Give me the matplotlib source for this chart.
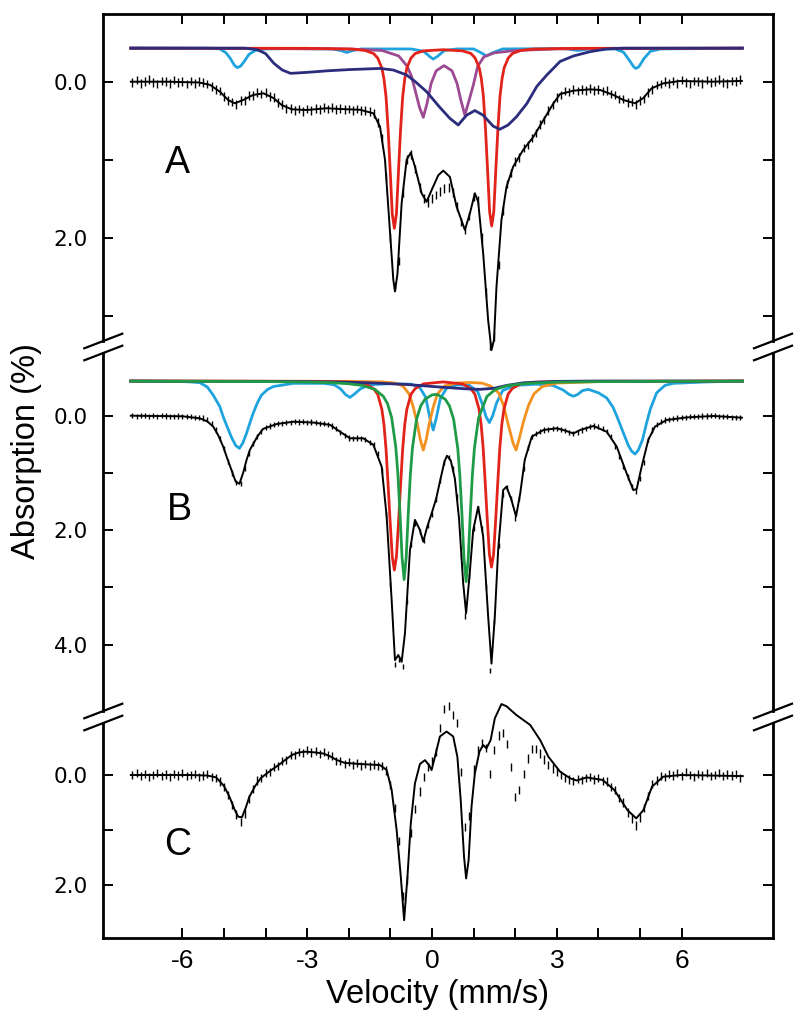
import numpy as np
import matplotlib
matplotlib.use("Agg")
import matplotlib.pyplot as plt
from matplotlib.lines import Line2D

# ---------------- data (velocity in mm/s, absorption in %) ----------------
VEL_START, VEL_STOP = -7.2, 7.4

A_DATA = [0.01, -0.02, 0.02, 0.0, -0.03, 0.01, 0.03, -0.01, 0.0, 0.02,
          -0.02, 0.01, 0.0, 0.03, -0.01, 0.02, 0.0, 0.01, 0.03, 0.06,
          0.10, 0.12, 0.19, 0.24, 0.26, 0.29, 0.24, 0.24, 0.18, 0.18,
          0.14, 0.16, 0.14, 0.19, 0.20, 0.27, 0.29, 0.34, 0.34, 0.37,
          0.35, 0.38, 0.35, 0.37, 0.34, 0.36, 0.33, 0.35, 0.33, 0.36,
          0.34, 0.36, 0.35, 0.37, 0.35, 0.37, 0.37, 0.38, 0.41, 0.52,
          0.72, 1.22, 2.0, 2.62, 2.3, 1.42, 1.0, 0.93, 1.12, 1.36,
          1.5, 1.55, 1.5, 1.45, 1.41, 1.37, 1.36, 1.42, 1.6, 1.8,
          1.9, 1.72, 1.48, 1.52, 2.0, 2.7, 3.38, 3.27, 2.35, 1.65,
          1.31, 1.17, 1.02, 0.97, 0.85, 0.81, 0.72, 0.66, 0.55, 0.49,
          0.37, 0.30, 0.20, 0.17, 0.12, 0.13, 0.10, 0.12, 0.10, 0.11,
          0.09, 0.11, 0.10, 0.12, 0.11, 0.16, 0.17, 0.22, 0.22, 0.27,
          0.26, 0.29, 0.24, 0.22, 0.14, 0.10, 0.04, 0.03, 0.0, 0.02,
          -0.01, 0.02, -0.02, 0.01, 0.03, -0.01, 0.0, 0.02, -0.02, 0.01,
          0.0, -0.03, 0.01, 0.02, -0.01, 0.0, -0.03]

A_FIT_X = [-7.24, -6.4, -5.6, -5.34, -5.1, -4.9, -4.74, -4.54, -4.3, -4.05,
           -3.81, -3.61, -3.37, -3.01, -2.53, -2.21, -1.73, -1.41, -1.25, -1.13,
           -1.03, -0.93, -0.89, -0.83, -0.73, -0.61, -0.51, -0.41, -0.25, -0.13,
           -0.01, 0.15, 0.27, 0.43, 0.59, 0.79, 0.91, 1.03, 1.11, 1.23,
           1.35, 1.43, 1.49, 1.55, 1.67, 1.79, 1.95, 2.19, 2.44, 2.68,
           2.92, 3.08, 3.4, 3.8, 4.04, 4.36, 4.6, 4.88, 5.08, 5.28,
           5.56, 5.96, 6.76, 7.45]
A_FIT_Y = [0.0, 0.0, 0.01, 0.04, 0.128, 0.235, 0.277, 0.235, 0.17, 0.149,
           0.21, 0.30, 0.354, 0.363, 0.34, 0.35, 0.36, 0.405, 0.577, 1.0,
           1.77, 2.54, 2.69, 2.46, 1.56, 1.0, 0.91, 1.09, 1.43, 1.54,
           1.39, 1.2, 1.14, 1.22, 1.60, 1.9, 1.69, 1.43, 1.54, 2.2,
           3.06, 3.44, 3.31, 2.63, 1.77, 1.35, 1.09, 0.876, 0.705, 0.49,
           0.277, 0.158, 0.115, 0.098, 0.106, 0.17, 0.235, 0.277, 0.21, 0.085,
           0.021, -0.009, 0.0, -0.01]

A_CYAN_X = [-7.24, -5.4, -5.1, -4.95, -4.85, -4.75, -4.68, -4.6, -4.5, -4.4,
            -4.25, -4.0, -3.5, -2.4, -2.2, -2.05, -1.9, -1.7, -0.5, -0.2,
            -0.05, 0.03, 0.12, 0.3, 0.6, 1.0, 1.15, 1.31, 1.45, 1.7,
            3.2, 3.5, 3.8, 4.4, 4.6, 4.75, 4.85, 4.9, 4.97, 5.1,
            5.25, 5.5, 7.46]
A_CYAN_Y = [-0.43, -0.43, -0.42, -0.37, -0.30, -0.21, -0.18, -0.20, -0.27, -0.35,
            -0.40, -0.42, -0.425, -0.42, -0.40, -0.375, -0.40, -0.42, -0.42, -0.39,
            -0.32, -0.29, -0.32, -0.40, -0.42, -0.42, -0.38, -0.33, -0.37, -0.42,
            -0.425, -0.40, -0.42, -0.42, -0.38, -0.27, -0.19, -0.17, -0.19, -0.30,
            -0.39, -0.42, -0.43]

A_PURPLE_X = [-7.24, -2.0, -1.2, -0.8, -0.6, -0.5, -0.4, -0.3, -0.21, -0.12,
              -0.02, 0.1, 0.29, 0.48, 0.6, 0.7, 0.79, 0.88, 0.99, 1.1,
              1.25, 1.5, 2.0, 3.0, 7.46]
A_PURPLE_Y = [-0.43, -0.42, -0.40, -0.33, -0.20, -0.08, 0.12, 0.33, 0.457, 0.28,
              0.02, -0.14, -0.206, -0.14, 0.02, 0.25, 0.427, 0.26, 0.05, -0.20,
              -0.32, -0.37, -0.40, -0.42, -0.43]

A_RED_X = [-7.24, -3.0, -1.905, -1.605, -1.405, -1.305, -1.205, -1.155, -1.105, -1.055,
           -1.005, -0.955, -0.905, -0.855, -0.805, -0.755, -0.705, -0.655, -0.605, -0.505,
           -0.405, -0.205, 0.265, 0.735, 0.935, 1.035, 1.135, 1.185, 1.235, 1.285,
           1.335, 1.385, 1.435, 1.485, 1.535, 1.585, 1.635, 1.685, 1.735, 1.835,
           1.935, 2.135, 2.435, 3.5, 7.46]
A_RED_Y = [-0.43, -0.428, -0.418, -0.40, -0.361, -0.303, -0.176, -0.037, 0.194, 0.61,
           1.141, 1.695, 1.88, 1.695, 1.141, 0.61, 0.194, -0.037, -0.176, -0.303,
           -0.361, -0.395, -0.41, -0.395, -0.362, -0.305, -0.179, -0.042, 0.186, 0.596,
           1.12, 1.668, 1.85, 1.668, 1.12, 0.596, 0.186, -0.042, -0.179, -0.305,
           -0.362, -0.40, -0.419, -0.428, -0.43]

A_NAVY_X = [-7.24, -4.5, -4.2, -4.0, -3.8, -3.6, -3.4, -3.0, -2.5, -2.0,
            -1.5, -1.25, -0.93, -0.61, -0.4, -0.13, 0.19, 0.43, 0.63, 0.83,
            1.03, 1.23, 1.47, 1.63, 1.83, 2.03, 2.28, 2.52, 2.76, 3.08,
            3.4, 3.8, 4.2, 4.6, 7.46]
A_NAVY_Y = [-0.43, -0.43, -0.41, -0.36, -0.235, -0.15, -0.107, -0.12, -0.14, -0.155,
            -0.165, -0.17, -0.15, -0.086, 0.0, 0.128, 0.33, 0.47, 0.555, 0.43,
            0.37, 0.43, 0.57, 0.61, 0.555, 0.45, 0.28, 0.06, -0.086, -0.26,
            -0.33, -0.385, -0.42, -0.43, -0.43]

B_DATA = [0.0, 0.01, -0.01, 0.0, 0.015, -0.005, 0.01, 0.0, 0.005, 0.01,
          0.01, 0.005, 0.015, 0.01, 0.02, 0.03, 0.03, 0.04, 0.06, 0.13,
          0.25, 0.40, 0.58, 0.80, 1.0, 1.17, 1.19, 0.92, 0.66, 0.49,
          0.37, 0.27, 0.21, 0.18, 0.16, 0.14, 0.14, 0.12, 0.12, 0.10,
          0.11, 0.10, 0.12, 0.11, 0.12, 0.13, 0.14, 0.16, 0.18, 0.23,
          0.29, 0.34, 0.39, 0.40, 0.39, 0.40, 0.42, 0.47, 0.51, 0.66,
          0.95, 1.72, 2.95, 4.35, 4.25, 4.38, 3.25, 2.25, 1.88, 2.02,
          2.18, 1.92, 1.72, 1.47, 1.13, 0.82, 0.73, 0.92, 1.42, 2.45,
          3.5, 2.8, 1.97, 1.62, 1.97, 2.98, 4.45, 3.6, 2.27, 1.38,
          1.26, 1.45, 1.8, 1.45, 0.92, 0.55, 0.37, 0.31, 0.27, 0.25,
          0.24, 0.23, 0.22, 0.24, 0.26, 0.29, 0.31, 0.29, 0.25, 0.22,
          0.19, 0.18, 0.19, 0.22, 0.28, 0.37, 0.54, 0.72, 0.88, 1.07,
          1.24, 1.32, 1.1, 0.82, 0.42, 0.25, 0.15, 0.10, 0.075, 0.06,
          0.05, 0.04, 0.035, 0.03, 0.02, 0.015, 0.01, 0.005, 0.005, 0.0,
          0.0, 0.01, 0.015, 0.02, 0.025, 0.03, 0.035]

B_FIT_X = [-7.24, -6.0, -5.58, -5.4, -5.26, -5.14, -5.02, -4.92, -4.82, -4.72,
           -4.63, -4.54, -4.46, -4.38, -4.2, -4.06, -3.73, -3.33, -2.85, -2.45,
           -2.21, -1.97, -1.65, -1.41, -1.21, -1.09, -0.97, -0.89, -0.81, -0.73,
           -0.65, -0.53, -0.41, -0.3, -0.21, -0.12, -0.01, 0.1, 0.2, 0.3,
           0.36, 0.45, 0.55, 0.65, 0.75, 0.82, 0.9, 0.99, 1.11, 1.23,
           1.35, 1.43, 1.51, 1.59, 1.71, 1.79, 1.91, 2.02, 2.12, 2.23,
           2.4, 2.68, 3.0, 3.2, 3.4, 3.56, 3.88, 4.2, 4.44, 4.68,
           4.84, 4.92, 5.04, 5.2, 5.36, 5.64, 6.12, 6.76, 7.45]
B_FIT_Y = [0.0, 0.01, 0.046, 0.10, 0.19, 0.34, 0.54, 0.75, 0.95, 1.15,
           1.19, 1.0, 0.78, 0.6, 0.366, 0.23, 0.145, 0.105, 0.12, 0.16,
           0.28, 0.395, 0.395, 0.51, 0.89, 1.76, 3.22, 4.27, 4.18, 4.3,
           3.8, 2.35, 1.82, 1.98, 2.2, 1.95, 1.71, 1.45, 1.12, 0.80,
           0.70, 0.78, 1.1, 1.8, 2.93, 3.45, 2.81, 2.0, 1.59, 2.11,
           3.51, 4.33, 3.51, 2.35, 1.30, 1.24, 1.47, 1.76, 1.36, 0.77,
           0.366, 0.25, 0.22, 0.26, 0.31, 0.25, 0.18, 0.28, 0.54, 1.01,
           1.30, 1.28, 0.89, 0.42, 0.19, 0.075, 0.03, 0.005, 0.035]

B_CYAN_X = [-7.24, -6.2, -5.8, -5.58, -5.4, -5.26, -5.1, -5.02, -4.92, -4.82,
            -4.72, -4.63, -4.55, -4.46, -4.38, -4.3, -4.2, -4.1, -3.95, -3.81,
            -3.33, -2.6, -2.35, -2.2, -2.08, -1.97, -1.86, -1.72, -1.5, -1.0,
            -0.5, -0.3, -0.15, -0.05, 0.03, 0.1, 0.2, 0.35, 0.6, 0.9,
            1.1, 1.22, 1.3, 1.38, 1.46, 1.55, 1.7, 2.0, 2.5, 2.9,
            3.15, 3.3, 3.4, 3.5, 3.62, 3.76, 4.0, 4.2, 4.35, 4.45,
            4.6, 4.72, 4.8, 4.88, 4.96, 5.06, 5.15, 5.25, 5.4, 5.6,
            5.8, 6.6, 7.46]
B_CYAN_Y = [-0.605, -0.60, -0.59, -0.577, -0.50, -0.36, -0.16, 0.017, 0.2, 0.378,
            0.52, 0.57, 0.48, 0.31, 0.13, -0.04, -0.22, -0.36, -0.46, -0.51,
            -0.565, -0.565, -0.54, -0.47, -0.37, -0.32, -0.38, -0.47, -0.54, -0.56,
            -0.55, -0.50, -0.32, 0.05, 0.25, 0.05, -0.30, -0.48, -0.54, -0.53,
            -0.42, -0.18, 0.02, 0.12, 0.0, -0.22, -0.44, -0.53, -0.55, -0.53,
            -0.45, -0.37, -0.34, -0.37, -0.44, -0.46, -0.40, -0.31, -0.15, 0.02,
            0.30, 0.52, 0.62, 0.67, 0.60, 0.42, 0.15, -0.12, -0.40, -0.53,
            -0.565, -0.59, -0.605]

B_ORANGE_X = [-7.24, -2.0, -1.2, -0.9, -0.7, -0.55, -0.45, -0.35, -0.28, -0.21,
              -0.14, -0.07, 0.03, 0.13, 0.3, 0.6, 0.9, 1.2, 1.4, 1.6,
              1.72, 1.82, 1.95, 2.02, 2.09, 2.2, 2.32, 2.45, 2.65, 3.0,
              4.0, 7.46]
B_ORANGE_Y = [-0.605, -0.60, -0.59, -0.57, -0.52, -0.38, -0.15, 0.15, 0.42, 0.60,
              0.42, 0.15, -0.15, -0.38, -0.52, -0.57, -0.58, -0.57, -0.52, -0.40,
              -0.18, 0.12, 0.48, 0.60, 0.42, 0.10, -0.18, -0.38, -0.51, -0.57,
              -0.595, -0.605]

B_RED_X = [-7.24, -3.0, -1.905, -1.605, -1.405, -1.305, -1.205, -1.155, -1.105, -1.055,
           -1.005, -0.955, -0.905, -0.855, -0.805, -0.755, -0.705, -0.655, -0.605, -0.505,
           -0.405, -0.205, 0.26, 0.73, 0.93, 1.03, 1.13, 1.18, 1.23, 1.28,
           1.33, 1.38, 1.43, 1.48, 1.53, 1.58, 1.63, 1.68, 1.73, 1.83,
           1.93, 2.13, 2.43, 3.5, 7.46]
B_RED_Y = [-0.605, -0.60, -0.585, -0.556, -0.473, -0.374, -0.11, 0.154, 0.583, 1.21,
           1.87, 2.464, 2.695, 2.464, 1.87, 1.21, 0.583, 0.154, -0.11, -0.374,
           -0.473, -0.556, -0.59, -0.556, -0.475, -0.377, -0.117, 0.143, 0.565, 1.18,
           1.83, 2.42, 2.645, 2.42, 1.83, 1.18, 0.565, 0.143, -0.117, -0.377,
           -0.475, -0.556, -0.585, -0.60, -0.605]

B_GREEN_X = [-7.24, -4.0, -3.0, -2.5, -2.0, -1.67, -1.37, -1.17, -1.07, -0.97,
             -0.87, -0.82, -0.77, -0.72, -0.67, -0.62, -0.57, -0.52, -0.47, -0.37,
             -0.27, -0.17, 0.0, 0.075, 0.15, 0.32, 0.42, 0.52, 0.62, 0.67,
             0.72, 0.77, 0.82, 0.87, 0.92, 0.97, 1.02, 1.12, 1.32, 1.52,
             1.82, 2.3, 3.0, 4.0, 5.5, 7.46]
B_GREEN_Y = [-0.602, -0.596, -0.588, -0.579, -0.558, -0.528, -0.459, -0.338, -0.211, 0.032,
             0.551, 1.023, 1.698, 2.473, 2.863, 2.475, 1.703, 1.03, 0.56, 0.058,
             -0.174, -0.287, -0.363, -0.37, -0.363, -0.286, -0.171, 0.063, 0.577, 1.05,
             1.728, 2.508, 2.899, 2.506, 1.723, 1.042, 0.566, 0.037, -0.336, -0.457,
             -0.527, -0.566, -0.586, -0.595, -0.60, -0.602]

B_NAVY_X = [-7.24, -4.0, -2.5, -1.5, -0.6, 0.2, 0.8, 1.15, 1.5, 1.8, 2.2, 3.0, 4.0, 7.46]
B_NAVY_Y = [-0.605, -0.60, -0.59, -0.575, -0.545, -0.50, -0.47, -0.46, -0.48, -0.53,
            -0.575, -0.60, -0.605, -0.605]

C_DATA = [0.0, -0.03, 0.02, -0.02, 0.03, 0.0, -0.04, 0.02, -0.01, 0.03,
          -0.02, 0.01, -0.03, 0.02, 0.0, -0.02, 0.03, 0.01, -0.02, 0.03,
          0.06, 0.12, 0.22, 0.36, 0.55, 0.72, 0.85, 0.70, 0.44, 0.26,
          0.10, 0.06, -0.04, -0.06, -0.15, -0.17, -0.25, -0.27, -0.36, -0.37,
          -0.42, -0.40, -0.45, -0.41, -0.43, -0.38, -0.42, -0.36, -0.35, -0.26,
          -0.25, -0.20, -0.23, -0.18, -0.22, -0.17, -0.20, -0.16, -0.19, -0.17,
          -0.17, -0.08, 0.18, 0.6, 1.2, 2.2, 1.9, 1.05, 0.62, 0.30,
          0.03, -0.15, -0.26, -0.42, -0.85, -1.2, -1.25, -1.09, -0.95, -0.05,
          0.94, 0.75, -0.1, -0.45, -0.58, -0.49, -0.02, -0.45, -0.72, -0.76,
          -0.57, -0.15, 0.4, 0.27, -0.02, -0.3, -0.47, -0.47, -0.39, -0.28,
          -0.18, -0.12, -0.05, 0.0, 0.05, 0.08, 0.11, 0.07, 0.09, 0.06,
          0.03, 0.08, 0.05, 0.11, 0.12, 0.22, 0.27, 0.42, 0.50, 0.68,
          0.80, 0.92, 0.78, 0.60, 0.38, 0.17, 0.10, 0.02, 0.04, -0.02,
          0.01, -0.03, 0.02, -0.05, 0.0, 0.03, -0.02, 0.01, -0.04, 0.02,
          0.0, -0.03, 0.02, -0.01, 0.01, -0.02, 0.05]

C_FIT_X = [-7.24, -5.84, -5.4, -5.19, -5.0, -4.87, -4.75, -4.66, -4.57, -4.48,
           -4.39, -4.25, -4.12, -3.9, -3.69, -3.5, -3.37, -3.2, -3.04, -2.8,
           -2.61, -2.45, -2.29, -2.1, -1.73, -1.25, -1.09, -0.97, -0.85, -0.75,
           -0.67, -0.59, -0.51, -0.41, -0.29, -0.17, -0.07, -0.01, 0.07, 0.19,
           0.35, 0.51, 0.61, 0.69, 0.77, 0.82, 0.88, 0.95, 1.03, 1.14,
           1.23, 1.31, 1.41, 1.51, 1.67, 1.79, 2.03, 2.36, 2.6, 2.8,
           3.08, 3.32, 3.48, 3.72, 3.84, 4.1, 4.38, 4.7, 4.91, 5.08,
           5.29, 5.56, 5.99, 7.47]
C_FIT_Y = [0.0, 0.0, 0.01, 0.043, 0.2, 0.394, 0.62, 0.758, 0.77, 0.60,
           0.394, 0.20, 0.06, -0.07, -0.18, -0.29, -0.363, -0.41, -0.424, -0.41,
           -0.39, -0.34, -0.273, -0.22, -0.2, -0.18, -0.09, 0.27, 1.0, 1.85,
           2.64, 1.85, 0.88, 0.152, -0.2, -0.27, -0.18, -0.09, -0.33, -0.70,
           -0.79, -0.70, -0.33, 0.455, 1.485, 1.88, 1.55, 0.576, -0.03, -0.424,
           -0.545, -0.485, -0.636, -1.03, -1.29, -1.25, -1.09, -0.91, -0.636, -0.33,
           -0.06, 0.06, 0.10, 0.043, 0.06, 0.09, 0.27, 0.64, 0.788, 0.64,
           0.21, 0.03, 0.0, 0.02]

PANEL_LABELS = ["A", "B", "C"]
X_TICKS = [-6, -5, -4, -3, -2, -1, 0, 1, 2, 3, 4, 5, 6]
X_TICK_LABELS = ["-6", "", "", "-3", "", "", "0", "", "", "3", "", "", "6"]
Y_TICKS = [[0, 1, 2, 3], [0, 1, 2, 3, 4], [0, 1, 2]]
Y_TICK_LABELS = [["0.0", "", "2.0", ""], ["0.0", "", "2.0", "", "4.0"], ["0.0", "", "2.0"]]

# ---------------- colours / styles ----------------
CYAN = "#1FA3DE"
RED = "#E2231A"
PURPLE = "#9C4A93"
NAVY = "#2B2C7C"
GREEN = "#1F9B48"
ORANGE = "#F3911E"

SANS = ["Liberation Sans", "DejaVu Sans"]

W, H = 800, 1026
fig = plt.figure(figsize=(W / 100, H / 100), dpi=100)

LEFT_PX, RIGHT_PX = 103.3, 773.0
X0_PX, X_PPU = 432.0, 41.6
# (top px, bottom px, zero px, px per unit)
PANELS = [(14, 341, 81.7, 78.0), (353, 711, 415.7, 57.25), (723, 938.3, 775.0, 55.0)]

vel = np.linspace(VEL_START, VEL_STOP, len(A_DATA))
axes = []
for i, (top, bot, zero, ppu) in enumerate(PANELS):
    ax = fig.add_axes([LEFT_PX / W, 1 - bot / H, (RIGHT_PX - LEFT_PX) / W, (bot - top) / H])
    ax.set_xlim((LEFT_PX - X0_PX) / X_PPU, (RIGHT_PX - X0_PX) / X_PPU)
    ax.set_ylim((bot - zero) / ppu, (top - zero) / ppu)
    for s in ax.spines.values():
        s.set_linewidth(2.0)
    ax.set_yticks(Y_TICKS[i])
    ax.set_yticklabels(Y_TICK_LABELS[i], fontfamily="DejaVu Sans", fontsize=15.5)
    ax.tick_params(axis="y", which="both", direction="in", length=7.5, width=1.4,
                   left=True, right=True, labelleft=True, labelright=False, pad=11)
    ax.set_xticks(X_TICKS)
    axes.append(ax)

axA, axB, axC = axes
axA.spines["bottom"].set_visible(False)
axB.spines["top"].set_visible(False)
axB.spines["bottom"].set_visible(False)
axC.spines["top"].set_visible(False)
axA.tick_params(axis="x", direction="in", length=7.5, width=1.4, top=True, bottom=False,
                labeltop=False, labelbottom=False)
axB.tick_params(axis="x", top=False, bottom=False, labeltop=False, labelbottom=False)
axC.tick_params(axis="x", direction="in", length=7.5, width=1.4, top=False, bottom=True,
                labelbottom=True, pad=8)
axC.set_xticklabels(X_TICK_LABELS, fontfamily=SANS, fontsize=19)

# ---- panel A ----
axA.vlines(vel, np.array(A_DATA) - 0.055, np.array(A_DATA) + 0.055, colors="black",
           linewidth=1.0, clip_on=False, zorder=2)
axA.plot(A_FIT_X, A_FIT_Y, color="black", lw=1.4, clip_on=False, zorder=3)
axA.plot(A_CYAN_X, A_CYAN_Y, color=CYAN, lw=2.0, clip_on=False, zorder=4)
axA.plot(A_PURPLE_X, A_PURPLE_Y, color=PURPLE, lw=2.0, clip_on=False, zorder=5)
axA.plot(A_RED_X, A_RED_Y, color=RED, lw=2.0, clip_on=False, zorder=6)
axA.plot(A_NAVY_X, A_NAVY_Y, color=NAVY, lw=2.0, clip_on=False, zorder=7)

# ---- panel B ----
axB.vlines(vel, np.array(B_DATA) - 0.045, np.array(B_DATA) + 0.045, colors="black",
           linewidth=1.0, clip_on=False, zorder=2)
axB.plot(B_FIT_X, B_FIT_Y, color="black", lw=1.4, clip_on=False, zorder=3)
axB.plot(B_CYAN_X, B_CYAN_Y, color=CYAN, lw=2.0, clip_on=False, zorder=4)
axB.plot(B_ORANGE_X, B_ORANGE_Y, color=ORANGE, lw=2.0, clip_on=False, zorder=5)
axB.plot(B_RED_X, B_RED_Y, color=RED, lw=2.0, clip_on=False, zorder=6)
axB.plot(B_NAVY_X, B_NAVY_Y, color=NAVY, lw=2.0, clip_on=False, zorder=7)
axB.plot(B_GREEN_X, B_GREEN_Y, color=GREEN, lw=2.0, clip_on=False, zorder=8)

# ---- panel C ----
axC.vlines(vel, np.array(C_DATA) - 0.075, np.array(C_DATA) + 0.075, colors="black",
           linewidth=1.0, clip_on=False, zorder=2)
axC.plot(C_FIT_X, C_FIT_Y, color="black", lw=1.4, clip_on=False, zorder=3)

# panel letters
for ax, lab, (px, py) in zip(axes, PANEL_LABELS, [(177, 163), (179, 510), (178, 845)]):
    fig.text(px / W, 1 - py / H, lab, fontsize=27, fontfamily=SANS, ha="center", va="center")

fig.text(437 / W, 1 - 994 / H, "Velocity (mm/s)", fontsize=23.5, fontfamily=SANS,
         ha="center", va="center")
fig.text(27 / W, 1 - 451 / H, "Absorption (%)", fontsize=23.5, fontfamily=SANS,
         ha="center", va="center", rotation=90)

# axis-break marks
def brk(xc, yc):
    x1, x2 = xc - 19, xc + 19
    y1, y2 = yc + 7.3, yc - 7.3
    fig.add_artist(Line2D([x1 / W, x2 / W], [1 - y1 / H, 1 - y2 / H], color="black",
                          lw=1.6, transform=fig.transFigure))

for xc in (LEFT_PX, RIGHT_PX):
    for yc in (341, 353, 711, 723):
        brk(xc, yc)

fig.savefig("out.png", dpi=100)
